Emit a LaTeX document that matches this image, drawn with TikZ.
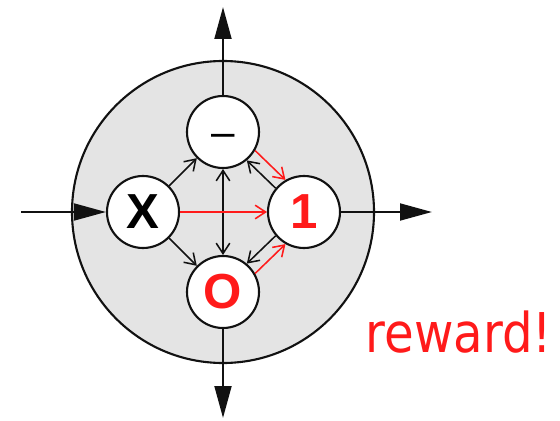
\documentclass[tikz,border=0pt]{standalone}
\usepackage{fontspec}
\setmainfont{Liberation Sans}
\setsansfont{Liberation Sans}
\newfontfamily\rewardfont{DejaVu Sans}
\usetikzlibrary{arrows.meta}
\definecolor{rewardred}{HTML}{FF1A1A}
\definecolor{discgray}{HTML}{E4E4E4}
\definecolor{boardfg}{HTML}{111111}

\begin{document}
\begin{tikzpicture}[x=1cm,y=1cm,>={Straight Barb[length=0.26cm,width=0.34cm]},font=\sffamily]
  \tikzstyle{disc}=[fill=discgray, draw=boardfg, line width=1.5pt]
  \tikzstyle{state}=[circle, fill=white, draw=boardfg, line width=1.5pt, minimum size=1.8cm, inner sep=0pt, font=\fontsize{35}{36}\selectfont\bfseries]
  \tikzstyle{outer}=[draw=boardfg, line width=1.8pt, -{Triangle[length=0.8cm,width=0.42cm]}]
  \tikzstyle{move}=[draw=boardfg, line width=1.1pt, ->]
  \tikzstyle{win}=[draw=rewardred, line width=1.1pt, ->]

  \path[use as bounding box] (0,0) rectangle (14,10.5);

  % Grey disc behind the four states.
  \draw[disc] (5.575,5.2) circle (3.775);

  \node[state] (cross) at (3.575,5.2) {X};
  \node[state, font=\fontsize{30}{32}\selectfont\mdseries] (blank) at (5.575,7.2) {\vphantom{X}–};
  \node[state, text=rewardred] (one) at (7.6,5.2) {1};
  \node[state, text=rewardred] (nought) at (5.575,3.2) {O};

  % Free ends of the outer arrows.
  \coordinate (inlet) at (0.525,5.2);
  \coordinate (outlet) at (10.8,5.2);
  \coordinate (up) at (5.575,10.325);
  \coordinate (down) at (5.575,0.05);

  \draw[outer] (inlet) -- (cross);
  \draw[outer] (one) -- (outlet);
  \draw[outer] (blank) -- (up);
  \draw[outer] (nought) -- (down);

  % Moves between the states.
  \draw[move] (cross.45) -- (blank.225);
  \draw[move] (cross.-45) -- (nought.135);
  \draw[move, <->] (blank) -- (nought);
  \draw[move] (one.140) -- (blank.-50);
  \draw[move] (one.-140) -- (nought.50);
  \draw[win] (blank.-30) -- (one.120);
  \draw[win] (nought.30) -- (one.-120);
  \draw[win] (cross) -- (one);

  \node[text=rewardred, font=\rewardfont\fontsize{39}{44}\selectfont] (reward) at (11.475,2.2) {\scalebox{0.88}[1]{reward!}};
\end{tikzpicture}
\end{document}
